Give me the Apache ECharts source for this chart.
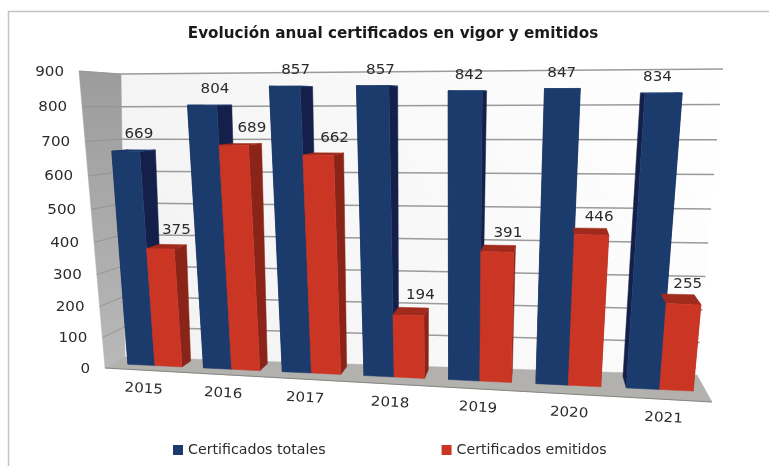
<!DOCTYPE html>
<html>
<head>
<meta charset="utf-8">
<style>html,body{margin:0;padding:0;background:#fff}#main{width:769px;height:466px}</style>
<script src="https://cdn.jsdelivr.net/npm/echarts@6/dist/echarts.min.js"></script>
</head>
<body>
<div id="main"></div>
<script>
var years = ['2015', '2016', '2017', '2018', '2019', '2020', '2021'];
var totales = [669, 804, 857, 857, 842, 847, 834];
var emitidos = [375, 689, 662, 194, 391, 446, 255];
var yTicks = [0, 100, 200, 300, 400, 500, 600, 700, 800, 900];

// camera: where the box corners land on screen, order is bottom-left, bottom-right, top-right, top-left
var backPlane = [[125, 357], [697, 375], [723, 69], [121, 74]];
var frontPlane = [[105, 368], [712, 402], [746, 66], [79, 71]];
var barFrontZ = 0.38, barBackZ = 0.84;
var barGroup = 0.72; // share of the band used by the two bars

function quadMap(q) {
    var dx1 = q[1][0] - q[2][0], dx2 = q[3][0] - q[2][0], sx = q[0][0] - q[1][0] + q[2][0] - q[3][0];
    var dy1 = q[1][1] - q[2][1], dy2 = q[3][1] - q[2][1], sy = q[0][1] - q[1][1] + q[2][1] - q[3][1];
    var den = dx1 * dy2 - dx2 * dy1;
    var g = (sx * dy2 - dx2 * sy) / den, h = (dx1 * sy - sx * dy1) / den;
    var a = q[1][0] - q[0][0] + g * q[1][0], b = q[3][0] - q[0][0] + h * q[3][0];
    var d = q[1][1] - q[0][1] + g * q[1][1], e = q[3][1] - q[0][1] + h * q[3][1];
    return function (u, v) {
        var w = g * u + h * v + 1;
        return [(a * u + b * v + q[0][0]) / w, (d * u + e * v + q[0][1]) / w];
    };
}
var backMap = quadMap(backPlane), frontMap = quadMap(frontPlane);

// u,v 0..1 on the grid, z 0 front 1 back
function project(u, v, z) {
    var f = frontMap(u, v), b = backMap(u, v);
    return [f[0] + (b[0] - f[0]) * z, f[1] + (b[1] - f[1]) * z];
}

// the bars lean a bit differently than the walls in the original
function barPoint(u, v, z) {
    var p = project(u, v, z);
    p[0] += -9 * Math.sin(Math.PI * u) * v + 5 * Math.pow(1 - u, 4) * (1 - v);
    return p;
}

function toUnit(params, api, pt) {
    var r = params.coordSys;
    return [(pt[0] - r.x) / r.width, 1 - (pt[1] - r.y) / r.height];
}

function poly(points, fill) {
    return {type: 'polygon', shape: {points: points}, style: {fill: fill, stroke: fill, lineWidth: 0.5}};
}

function label(text, x, y, align, font, rot) {
    return {
        type: 'text', x: x, y: y, rotation: rot || 0, scaleX: 1.12,
        style: {text: text, x: 0, y: 0, align: align, verticalAlign: 'middle', fill: '#2b2b2b', font: font}
    };
}

var tickFont = '13.5px "DejaVu Sans"';

function renderWalls(params, api) {
    var wallGrad = new echarts.graphic.LinearGradient(0, 0, 0, 1, [{offset: 0, color: '#9c9c9c'}, {offset: 1, color: '#b8b8b8'}]);
    var backGrad = new echarts.graphic.LinearGradient(1, 0, 0, 1, [{offset: 0, color: '#ffffff'}, {offset: 1, color: '#f2f2f2'}]);
    return {
        type: 'group',
        children: [
            poly([project(0, 0, 1), project(1, 0, 1), project(1, 1, 1), project(0, 1, 1)], backGrad),
            poly([project(0, 0, 0), project(0, 0, 1), project(0, 1, 1), project(0, 1, 0)], wallGrad),
            poly([project(0, 0, 0), project(1, 0, 0), project(1, 0, 1), project(0, 0, 1)], '#b3b1ae'),
            {type: 'line', shape: {x1: project(0, 0, 0)[0], y1: project(0, 0, 0)[1], x2: project(1, 0, 0)[0], y2: project(1, 0, 0)[1]}, style: {stroke: '#85857f', lineWidth: 1}}
        ]
    };
}

function renderTick(params, api) {
    var v = toUnit(params, api, api.coord([0, api.value(1)]))[1];
    var a = project(0, v, 0), b = project(0, v, 1), c = project(1, v, 1);
    var kids = [
        label(String(api.value(1)), a[0] - 15, a[1] + 1, 'right', tickFont)
    ];
    if (api.value(1) > 0) {
        kids.push({type: 'line', shape: {x1: b[0], y1: b[1], x2: c[0], y2: c[1]}, style: {stroke: '#9a9a9a', lineWidth: 1.5}});
        kids.push({type: 'line', shape: {x1: a[0], y1: a[1], x2: b[0], y2: b[1]}, style: {stroke: '#8e8e8e', lineWidth: 0.8}});
    }
    return {type: 'group', children: kids};
}

function renderYear(params, api) {
    var i = api.value(0);
    var u = toUnit(params, api, api.coord([i, 0]))[0];
    var p = project(u, 0, 0), q = project(u + 0.02, 0, 0);
    var rot = -Math.atan2(q[1] - p[1], q[0] - p[0]);
    return label(years[i], p[0], p[1] + 19, 'center', tickFont, rot);
}

// one bar; side 0 is the blue one on the left of the band, side 1 the red one on the right
function barRenderer(side, front, dark, topCol) {
    return function (params, api) {
        var i = api.value(0), val = api.value(1);
        var pt = toUnit(params, api, api.coord([i, val]));
        var band = api.size([1, 0])[0] / params.coordSys.width;
        var w = band * barGroup / 2;
        var u0 = pt[0] + (side === 0 ? -w : 0), u1 = u0 + w, v = pt[1];
        var z0 = barFrontZ, z1 = barBackZ;
        var fl = barPoint(u0, v, z0), fr = barPoint(u1, v, z0), bl = barPoint(u0, v, z1), br = barPoint(u1, v, z1);
        var gl = barPoint(u0, 0, z0), gr = barPoint(u1, 0, z0), gbl = barPoint(u0, 0, z1), gbr = barPoint(u1, 0, z1);
        var labelX = (bl[0] + br[0]) / 2 + (side === 0 ? -3 * (1 - u0) : 3 + 8 * u0);
        var kids = [];
        if (side === 0) {
            kids.push(poly([gl, gbl, bl, fl], dark));
        }
        kids.push(poly([gr, gbr, br, fr], dark));
        kids.push(poly([fl, fr, br, bl], topCol));
        kids.push(poly([gl, gr, fr, fl], front));
        kids.push(label(String(val), labelX, fl[1] - 15 - 5 * (1 - v), 'center', tickFont));
        return {type: 'group', children: kids};
    };
}

function pairs(list) {
    return list.map(function (v, i) { return [i, v]; });
}

var chart = echarts.init(document.getElementById('main'));
chart.setOption({
    animation: false,
    backgroundColor: '#fff',
    title: {
        text: 'Evolución anual certificados en vigor y emitidos',
        left: 388, top: 22, textAlign: 'center',
        textStyle: {fontFamily: 'DejaVu Sans', fontSize: 15.2, fontWeight: 'bold', color: '#1a1a1a'}
    },
    legend: {
        data: ['Certificados totales', 'Certificados emitidos'],
        left: 168, top: 438, icon: 'rect', itemWidth: 10, itemHeight: 10, itemGap: 116,
        textStyle: {fontFamily: 'DejaVu Sans', fontSize: 14.2, color: '#2b2b2b'}
    },
    graphic: [
        {type: 'polyline', silent: true, shape: {points: [[8.5, 466], [8.5, 11.5], [769, 11.5]]}, style: {stroke: '#c4c4c4', lineWidth: 1.5, fill: null}}
    ],
    grid: {left: 100, right: 100, top: 60, bottom: 60},
    xAxis: {type: 'category', data: years, show: false},
    yAxis: {type: 'value', min: 0, max: 900, interval: 100, show: false},
    series: [
        {type: 'custom', name: 'walls', silent: true, renderItem: renderWalls, data: [[0, 0]], z: 1},
        {type: 'custom', name: 'ticks', silent: true, renderItem: renderTick, data: pairs(yTicks).map(function (d) { return [0, d[1]]; }), z: 2},
        {type: 'custom', name: 'years', silent: true, renderItem: renderYear, data: pairs(years).map(function (d) { return [d[0], 0]; }), z: 2},
        {type: 'custom', name: 'Certificados totales', renderItem: barRenderer(0, '#1b3b6c', '#14204a', '#1b3a6b'), data: pairs(totales), itemStyle: {color: '#1b3b6c'}, z: 3},
        {type: 'custom', name: 'Certificados emitidos', renderItem: barRenderer(1, '#cb3524', '#8a2419', '#a02a1c'), data: pairs(emitidos), itemStyle: {color: '#cb3524'}, z: 4}
    ]
});
</script>
</body>
</html>
